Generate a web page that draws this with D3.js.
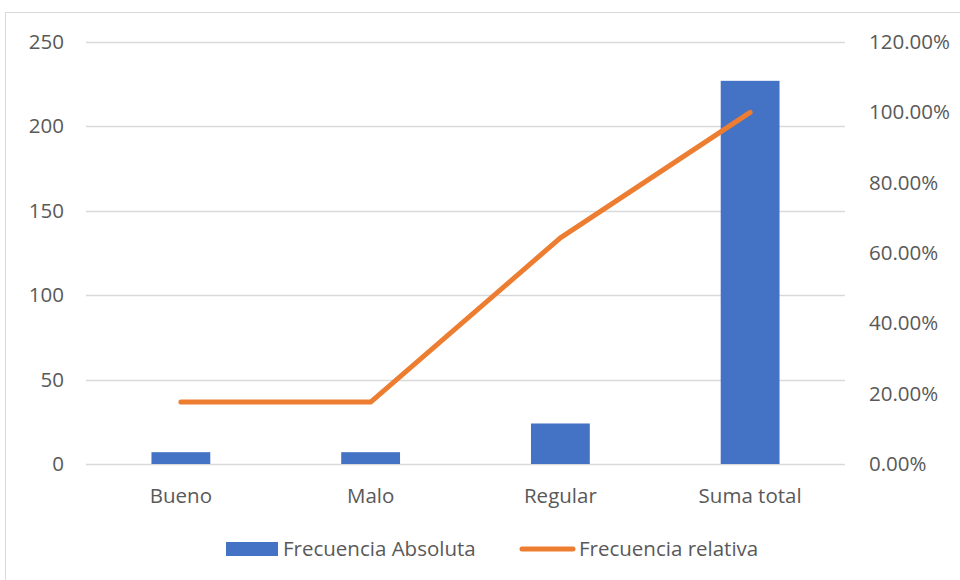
<!DOCTYPE html>
<html>
<head>
<meta charset="utf-8">
<script src="https://cdn.jsdelivr.net/npm/d3@7"></script>
<style>
  html, body { margin: 0; padding: 0; background: #fff; }
  svg text { font-family: "Open Sans", sans-serif; fill: #595959; }
</style>
</head>
<body>
<svg id="chart" width="960" height="580"></svg>
<script>
// Categories and the two series
const categories = ["Bueno", "Malo", "Regular", "Suma total"];
const frecuenciaAbsoluta = [7, 7, 24, 227];
const frecuenciaRelativa = [0.176, 0.176, 0.643, 1.0];
const leftTicks = [0, 50, 100, 150, 200, 250];
const rightTicks = [0, 0.2, 0.4, 0.6, 0.8, 1.0, 1.2];
const seriesNames = ["Frecuencia Absoluta", "Frecuencia relativa"];

const svg = d3.select("#chart");
const W = 960, H = 580;
const plot = { left: 86, right: 845, top: 42, bottom: 464 };
const barColor = "#4472C4", lineColor = "#ED7D31", gridColor = "#d9d9d9";
const font = "'Open Sans', sans-serif";
const fs = 20.5;

// Outer chart frame
svg.append("rect")
  .attr("x", 5.5).attr("y", 12.5)
  .attr("width", W).attr("height", H)
  .attr("fill", "none").attr("stroke", gridColor).attr("stroke-width", 1);

const x = d3.scaleBand().domain(categories).range([plot.left, plot.right]);
const yL = d3.scaleLinear().domain([0, 250]).range([plot.bottom, plot.top]);
const yR = d3.scaleLinear().domain([0, 1.2]).range([plot.bottom, plot.top]);

// Horizontal gridlines
svg.append("g").selectAll("line").data(leftTicks).join("line")
  .attr("x1", plot.left).attr("x2", plot.right)
  .attr("y1", d => Math.round(yL(d)) + 0.5).attr("y2", d => Math.round(yL(d)) + 0.5)
  .attr("stroke", gridColor).attr("stroke-width", 1.5);

// Left axis labels
const leftAxis = d3.axisLeft(yL).tickValues(leftTicks).tickSize(0).tickPadding(0);
svg.append("g").attr("transform", `translate(${plot.left - 22},0)`)
  .call(leftAxis)
  .call(g => g.select(".domain").remove())
  .call(g => g.selectAll("text").attr("font-size", fs).attr("fill", "#595959")
    .attr("font-family", font).attr("text-anchor", "end"));

// Right axis labels
const rightAxis = d3.axisRight(yR).tickValues(rightTicks).tickSize(0).tickPadding(0)
  .tickFormat(d => (d * 100).toFixed(2) + "%");
svg.append("g").attr("transform", `translate(${plot.right + 24},0)`)
  .call(rightAxis)
  .call(g => g.select(".domain").remove())
  .call(g => g.selectAll("text").attr("font-size", fs).attr("fill", "#595959")
    .attr("font-family", font));

// Bars
const barW = x.bandwidth() * 0.31;
svg.append("g").selectAll("rect").data(categories).join("rect")
  .attr("x", d => x(d) + x.bandwidth() / 2 - barW / 2)
  .attr("width", barW)
  .attr("y", (d, i) => yL(frecuenciaAbsoluta[i]))
  .attr("height", (d, i) => yL(0) - yL(frecuenciaAbsoluta[i]))
  .attr("fill", barColor);

// Line
const line = d3.line()
  .x((d, i) => x(categories[i]) + x.bandwidth() / 2)
  .y(d => yR(d));
svg.append("path").datum(frecuenciaRelativa)
  .attr("d", line)
  .attr("fill", "none").attr("stroke", lineColor)
  .attr("stroke-width", 5).attr("stroke-linecap", "round").attr("stroke-linejoin", "round");

// Category labels
const xAxis = d3.axisBottom(x).tickSize(0).tickPadding(0);
svg.append("g").attr("transform", `translate(0,${plot.bottom + 32})`)
  .call(xAxis)
  .call(g => g.select(".domain").remove())
  .call(g => g.selectAll("text").attr("font-size", fs).attr("fill", "#595959")
    .attr("font-family", font).attr("dy", "0.35em"));

// Legend
const legend = svg.append("g");
legend.append("rect").attr("x", 226).attr("y", 542).attr("width", 52).attr("height", 14).attr("fill", barColor);
legend.append("text").attr("x", 283).attr("y", 549).attr("dy", "0.35em")
  .attr("font-size", fs).text(seriesNames[0]);
legend.append("line").attr("x1", 522).attr("x2", 573).attr("y1", 549).attr("y2", 549)
  .attr("stroke", lineColor).attr("stroke-width", 5).attr("stroke-linecap", "round");
legend.append("text").attr("x", 579).attr("y", 549).attr("dy", "0.35em")
  .attr("font-size", fs).text(seriesNames[1]);
</script>
</body>
</html>
